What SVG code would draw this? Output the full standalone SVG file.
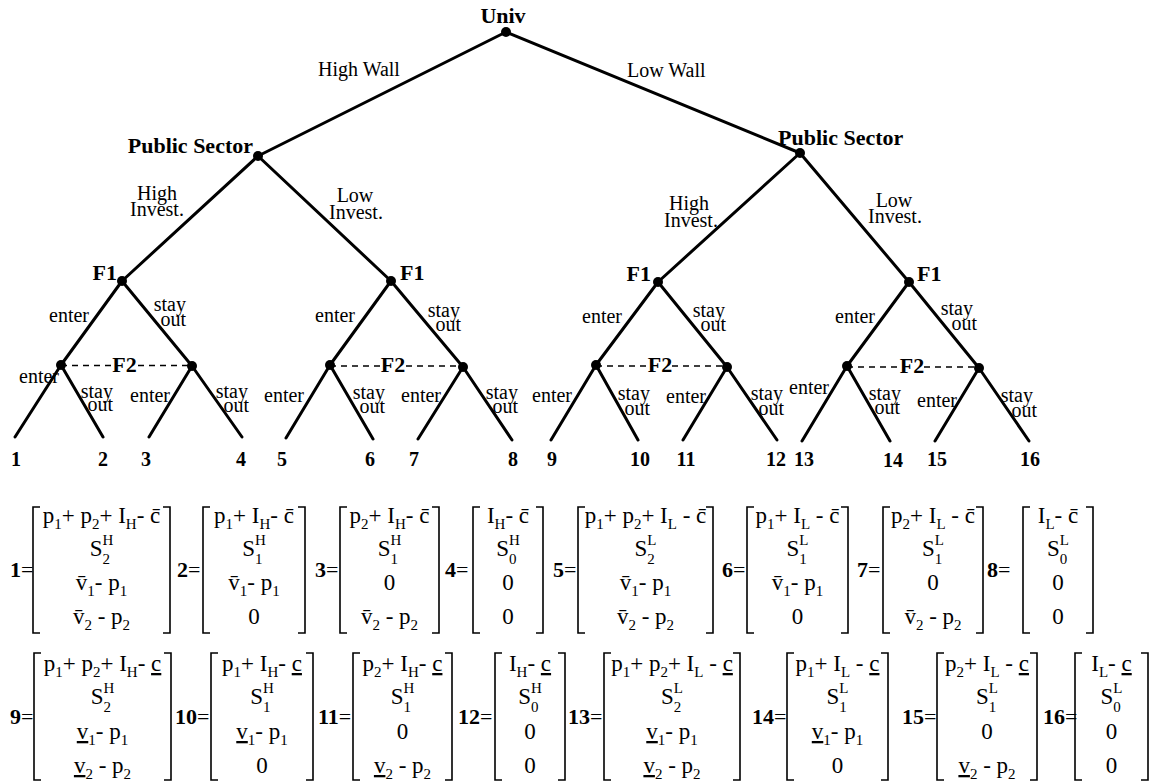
<svg xmlns="http://www.w3.org/2000/svg" width="1151" height="783" viewBox="0 0 1151 783">
<style>
text{font-family:"Liberation Serif","Times New Roman",serif;fill:#000}
.nl{font-size:22px;font-weight:bold}
.el{font-size:20px}
.lf{font-size:20px;font-weight:bold;text-anchor:middle}
.c{text-anchor:middle}
.e{text-anchor:end}
.m{font-size:23px;text-anchor:middle}
.s{font-size:15px}
.eq{font-size:22px}
.b{font-weight:bold}
.u{text-decoration:underline}
.edge{stroke:#000;stroke-width:3;fill:none;stroke-linecap:round}
.dash{stroke:#000;stroke-width:1.4;stroke-dasharray:6 5;fill:none}
.br{stroke:#000;stroke-width:1.6;fill:none}
.dot{fill:#000}
</style>
<rect width="1151" height="783" fill="#fff"/>
<g id="connectors">
<path class="edge" d="M506,32 L258,156 M506,32 L800,153 M258,156 L122,281 M258,156 L391,281 M800,153 L658,282 M800,153 L909,282 M122,281 L61,365 M122,281 L192,366 M391,281 L330,365 M391,281 L463,367 M658,282 L596,365 M658,282 L727,367 M909,282 L847,366 M909,282 L979,368 M61,365 L15,437 M61,365 L103,437 M192,366 L149,437 M192,366 L242,437 M330,365 L286,438 M330,365 L373,439 M463,367 L418,439 M463,367 L512,440 M596,365 L551,440 M596,365 L638,440 M727,367 L683,440 M727,367 L777,440 M847,366 L802,441 M847,366 L890,441 M979,368 L935,441 M979,368 L1029,441"/>
<path class="dash" d="M61,365.5 H111 M138,365.5 H192 M330,366 H380 M406,366 H463 M596,366 H648 M672,366 H727 M847,367 H900 M924,367 H979"/>
<text class="el" x="318" y="76">High Wall</text>
<text class="el" x="627" y="77">Low Wall</text>
<text class="el c" x="157" y="200">High<tspan x="157" dy="16">Invest.</tspan></text>
<text class="el c" x="355" y="202">Low<tspan x="356" dy="17">Invest.</tspan></text>
<text class="el c" x="689" y="210">High<tspan x="691" dy="17">Invest.</tspan></text>
<text class="el c" x="894" y="207">Low<tspan x="895" dy="16">Invest.</tspan></text>
<text class="el e" x="89" y="322">enter</text><text class="el e" x="186" y="311">stay<tspan x="186" dy="15">out</tspan></text>
<text class="el e" x="355" y="322">enter</text><text class="el e" x="460" y="317">stay<tspan x="461" dy="14">out</tspan></text>
<text class="el e" x="622" y="323">enter</text><text class="el e" x="725" y="317">stay<tspan x="726" dy="14">out</tspan></text>
<text class="el e" x="875" y="323">enter</text><text class="el e" x="973" y="315">stay<tspan x="977" dy="15">out</tspan></text>
<text class="el e" x="59" y="383">enter</text><text class="el e" x="113" y="398">stay<tspan x="113" dy="13">out</tspan></text>
<text class="el e" x="170" y="402">enter</text><text class="el e" x="248" y="398">stay<tspan x="249" dy="14">out</tspan></text>
<text class="el e" x="304" y="402">enter</text><text class="el e" x="385" y="399">stay<tspan x="385" dy="14">out</tspan></text>
<text class="el e" x="441" y="402">enter</text><text class="el e" x="518" y="399">stay<tspan x="518" dy="14">out</tspan></text>
<text class="el e" x="572" y="402">enter</text><text class="el e" x="650" y="400">stay<tspan x="650" dy="15">out</tspan></text>
<text class="el e" x="706" y="403">enter</text><text class="el e" x="783" y="400">stay<tspan x="784" dy="15">out</tspan></text>
<text class="el e" x="829" y="394">enter</text><text class="el e" x="901" y="400">stay<tspan x="900" dy="14">out</tspan></text>
<text class="el e" x="957" y="407">enter</text><text class="el e" x="1033" y="402">stay<tspan x="1037" dy="15">out</tspan></text>
</g>
<g id="univ"><circle class="dot" cx="506" cy="32" r="5"/><text class="nl c" x="503" y="23">Univ</text></g>
<g id="public-sector-high"><circle class="dot" cx="258" cy="156" r="5"/><text class="nl e" x="253" y="153">Public Sector</text></g>
<g id="public-sector-low"><circle class="dot" cx="800" cy="153" r="5"/><text class="nl" x="778" y="145">Public Sector</text></g>
<g id="f1-a"><circle class="dot" cx="122" cy="281" r="5"/><text class="nl e" x="117" y="280">F1</text></g>
<g id="f1-b"><circle class="dot" cx="391" cy="281" r="5"/><text class="nl" x="400" y="280">F1</text></g>
<g id="f1-c"><circle class="dot" cx="658" cy="282" r="5"/><text class="nl e" x="651" y="281">F1</text></g>
<g id="f1-d"><circle class="dot" cx="909" cy="282" r="5"/><text class="nl" x="917" y="281">F1</text></g>
<g id="f2-a"><circle class="dot" cx="61" cy="365" r="5"/><circle class="dot" cx="192" cy="366" r="5"/><text class="nl c" x="124.5" y="372">F2</text></g>
<g id="f2-b"><circle class="dot" cx="330" cy="365" r="5"/><circle class="dot" cx="463" cy="367" r="5"/><text class="nl c" x="393" y="372">F2</text></g>
<g id="f2-c"><circle class="dot" cx="596" cy="365" r="5"/><circle class="dot" cx="727" cy="367" r="5"/><text class="nl c" x="660" y="372">F2</text></g>
<g id="f2-d"><circle class="dot" cx="847" cy="366" r="5"/><circle class="dot" cx="979" cy="368" r="5"/><text class="nl c" x="912" y="373">F2</text></g>
<g id="leaves">
<text class="lf" x="16" y="466">1</text><text class="lf" x="103" y="466">2</text><text class="lf" x="146" y="466">3</text><text class="lf" x="241" y="466">4</text>
<text class="lf" x="282" y="466">5</text><text class="lf" x="370" y="466">6</text><text class="lf" x="414" y="466">7</text><text class="lf" x="513" y="466">8</text>
<text class="lf" x="552" y="466">9</text><text class="lf" x="640" y="466">10</text><text class="lf" x="686" y="466">11</text><text class="lf" x="776" y="466">12</text>
<text class="lf" x="804" y="466">13</text><text class="lf" x="893" y="467">14</text><text class="lf" x="937" y="466">15</text><text class="lf" x="1030" y="466">16</text>
</g>

<!-- Row 1 payoffs -->
<g id="payoff-1">
<text class="eq" x="10" y="577"><tspan class="b">1</tspan>=</text>
<path class="br" d="M40,507 H33 V633 H40 M163,507 H170 V633 H163"/>
<text class="m" x="101.5" y="523">p<tspan class="s" dy="6">1</tspan><tspan dy="-6">+ p</tspan><tspan class="s" dy="6">2</tspan><tspan dy="-6">+ I</tspan><tspan class="s" dy="6">H</tspan><tspan dy="-6">- c&#x304;</tspan></text>
<text class="m" x="101.5" y="556">S<tspan class="s" dy="-11">H</tspan><tspan class="s" dx="-10.8" dy="19">2</tspan></text>
<text class="m" x="101.5" y="590">v&#x304;<tspan class="s" dy="6">1</tspan><tspan dy="-6">- p</tspan><tspan class="s" dy="6">1</tspan></text>
<text class="m" x="101.5" y="624">v&#x304;<tspan class="s" dy="6">2</tspan><tspan dy="-6"> - p</tspan><tspan class="s" dy="6">2</tspan></text>
</g>
<g id="payoff-2">
<text class="eq" x="177" y="577"><tspan class="b">2</tspan>=</text>
<path class="br" d="M210,507 H203 V633 H210 M298,507 H305 V633 H298"/>
<text class="m" x="254" y="523">p<tspan class="s" dy="6">1</tspan><tspan dy="-6">+ I</tspan><tspan class="s" dy="6">H</tspan><tspan dy="-6">- c&#x304;</tspan></text>
<text class="m" x="254" y="556">S<tspan class="s" dy="-11">H</tspan><tspan class="s" dx="-10.8" dy="19">1</tspan></text>
<text class="m" x="254" y="590">v&#x304;<tspan class="s" dy="6">1</tspan><tspan dy="-6">- p</tspan><tspan class="s" dy="6">1</tspan></text>
<text class="m" x="254" y="624">0</text>
</g>
<g id="payoff-3">
<text class="eq" x="315" y="577"><tspan class="b">3</tspan>=</text>
<path class="br" d="M347,507 H340 V633 H347 M432,507 H439 V633 H432"/>
<text class="m" x="389.5" y="523">p<tspan class="s" dy="6">2</tspan><tspan dy="-6">+ I</tspan><tspan class="s" dy="6">H</tspan><tspan dy="-6">- c&#x304;</tspan></text>
<text class="m" x="389.5" y="556">S<tspan class="s" dy="-11">H</tspan><tspan class="s" dx="-10.8" dy="19">1</tspan></text>
<text class="m" x="389.5" y="590">0</text>
<text class="m" x="389.5" y="624">v&#x304;<tspan class="s" dy="6">2</tspan><tspan dy="-6"> - p</tspan><tspan class="s" dy="6">2</tspan></text>
</g>
<g id="payoff-4">
<text class="eq" x="445" y="577"><tspan class="b">4</tspan>=</text>
<path class="br" d="M480,507 H473 V633 H480 M536,507 H543 V633 H536"/>
<text class="m" x="508" y="523">I<tspan class="s" dy="6">H</tspan><tspan dy="-6">- c&#x304;</tspan></text>
<text class="m" x="508" y="556">S<tspan class="s" dy="-11">H</tspan><tspan class="s" dx="-10.8" dy="19">0</tspan></text>
<text class="m" x="508" y="590">0</text>
<text class="m" x="508" y="624">0</text>
</g>
<g id="payoff-5">
<text class="eq" x="553" y="577"><tspan class="b">5</tspan>=</text>
<path class="br" d="M585,507 H578 V633 H585 M706,507 H713 V633 H706"/>
<text class="m" x="645.5" y="523">p<tspan class="s" dy="6">1</tspan><tspan dy="-6">+ p</tspan><tspan class="s" dy="6">2</tspan><tspan dy="-6">+ I</tspan><tspan class="s" dy="6">L</tspan><tspan dy="-6"> - c&#x304;</tspan></text>
<text class="m" x="645.5" y="556">S<tspan class="s" dy="-11">L</tspan><tspan class="s" dx="-9.2" dy="19">2</tspan></text>
<text class="m" x="645.5" y="590">v&#x304;<tspan class="s" dy="6">1</tspan><tspan dy="-6">- p</tspan><tspan class="s" dy="6">1</tspan></text>
<text class="m" x="645.5" y="624">v&#x304;<tspan class="s" dy="6">2</tspan><tspan dy="-6"> - p</tspan><tspan class="s" dy="6">2</tspan></text>
</g>
<g id="payoff-6">
<text class="eq" x="722" y="577"><tspan class="b">6</tspan>=</text>
<path class="br" d="M754,507 H747 V633 H754 M841,507 H848 V633 H841"/>
<text class="m" x="797.5" y="523">p<tspan class="s" dy="6">1</tspan><tspan dy="-6">+ I</tspan><tspan class="s" dy="6">L</tspan><tspan dy="-6"> - c&#x304;</tspan></text>
<text class="m" x="797.5" y="556">S<tspan class="s" dy="-11">L</tspan><tspan class="s" dx="-9.2" dy="19">1</tspan></text>
<text class="m" x="797.5" y="590">v&#x304;<tspan class="s" dy="6">1</tspan><tspan dy="-6">- p</tspan><tspan class="s" dy="6">1</tspan></text>
<text class="m" x="797.5" y="624">0</text>
</g>
<g id="payoff-7">
<text class="eq" x="857" y="577"><tspan class="b">7</tspan>=</text>
<path class="br" d="M890,507 H883 V633 H890 M976,507 H983 V633 H976"/>
<text class="m" x="933" y="523">p<tspan class="s" dy="6">2</tspan><tspan dy="-6">+ I</tspan><tspan class="s" dy="6">L</tspan><tspan dy="-6"> - c&#x304;</tspan></text>
<text class="m" x="933" y="556">S<tspan class="s" dy="-11">L</tspan><tspan class="s" dx="-9.2" dy="19">1</tspan></text>
<text class="m" x="933" y="590">0</text>
<text class="m" x="933" y="624">v&#x304;<tspan class="s" dy="6">2</tspan><tspan dy="-6"> - p</tspan><tspan class="s" dy="6">2</tspan></text>
</g>
<g id="payoff-8">
<text class="eq" x="987" y="577"><tspan class="b">8</tspan>=</text>
<path class="br" d="M1030,507 H1023 V633 H1030 M1086,507 H1093 V633 H1086"/>
<text class="m" x="1058" y="523">I<tspan class="s" dy="6">L</tspan><tspan dy="-6">- c&#x304;</tspan></text>
<text class="m" x="1058" y="556">S<tspan class="s" dy="-11">L</tspan><tspan class="s" dx="-9.2" dy="19">0</tspan></text>
<text class="m" x="1058" y="590">0</text>
<text class="m" x="1058" y="624">0</text>
</g>

<!-- Row 2 payoffs -->
<g id="payoff-9">
<text class="eq" x="10" y="724"><tspan class="b">9</tspan>=</text>
<path class="br" d="M41,653 H34 V780 H41 M164,653 H171 V780 H164"/>
<text class="m" x="102.5" y="671">p<tspan class="s" dy="6">1</tspan><tspan dy="-6">+ p</tspan><tspan class="s" dy="6">2</tspan><tspan dy="-6">+ I</tspan><tspan class="s" dy="6">H</tspan><tspan dy="-6">- </tspan><tspan class="u">c</tspan></text>
<text class="m" x="102.5" y="704">S<tspan class="s" dy="-11">H</tspan><tspan class="s" dx="-10.8" dy="19">2</tspan></text>
<text class="m" x="102.5" y="739"><tspan class="u">v</tspan><tspan class="s" dy="6">1</tspan><tspan dy="-6">- p</tspan><tspan class="s" dy="6">1</tspan></text>
<text class="m" x="102.5" y="773"><tspan class="u">v</tspan><tspan class="s" dy="6">2</tspan><tspan dy="-6"> - p</tspan><tspan class="s" dy="6">2</tspan></text>
</g>
<g id="payoff-10">
<text class="eq" x="175" y="724"><tspan class="b">10</tspan>=</text>
<path class="br" d="M218,653 H211 V780 H218 M306,653 H313 V780 H306"/>
<text class="m" x="262" y="671">p<tspan class="s" dy="6">1</tspan><tspan dy="-6">+ I</tspan><tspan class="s" dy="6">H</tspan><tspan dy="-6">- </tspan><tspan class="u">c</tspan></text>
<text class="m" x="262" y="704">S<tspan class="s" dy="-11">H</tspan><tspan class="s" dx="-10.8" dy="19">1</tspan></text>
<text class="m" x="262" y="739"><tspan class="u">v</tspan><tspan class="s" dy="6">1</tspan><tspan dy="-6">- p</tspan><tspan class="s" dy="6">1</tspan></text>
<text class="m" x="262" y="773">0</text>
</g>
<g id="payoff-11">
<text class="eq" x="318" y="724"><tspan class="b">11</tspan>=</text>
<path class="br" d="M360,653 H353 V780 H360 M445,653 H452 V780 H445"/>
<text class="m" x="402.5" y="671">p<tspan class="s" dy="6">2</tspan><tspan dy="-6">+ I</tspan><tspan class="s" dy="6">H</tspan><tspan dy="-6">- </tspan><tspan class="u">c</tspan></text>
<text class="m" x="402.5" y="704">S<tspan class="s" dy="-11">H</tspan><tspan class="s" dx="-10.8" dy="19">1</tspan></text>
<text class="m" x="402.5" y="739">0</text>
<text class="m" x="402.5" y="773"><tspan class="u">v</tspan><tspan class="s" dy="6">2</tspan><tspan dy="-6"> - p</tspan><tspan class="s" dy="6">2</tspan></text>
</g>
<g id="payoff-12">
<text class="eq" x="458" y="724"><tspan class="b">12</tspan>=</text>
<path class="br" d="M502,653 H495 V780 H502 M558,653 H565 V780 H558"/>
<text class="m" x="530" y="671">I<tspan class="s" dy="6">H</tspan><tspan dy="-6">- </tspan><tspan class="u">c</tspan></text>
<text class="m" x="530" y="704">S<tspan class="s" dy="-11">H</tspan><tspan class="s" dx="-10.8" dy="19">0</tspan></text>
<text class="m" x="530" y="739">0</text>
<text class="m" x="530" y="773">0</text>
</g>
<g id="payoff-13">
<text class="eq" x="568" y="724"><tspan class="b">13</tspan>=</text>
<path class="br" d="M611,653 H604 V780 H611 M733,653 H740 V780 H733"/>
<text class="m" x="672" y="671">p<tspan class="s" dy="6">1</tspan><tspan dy="-6">+ p</tspan><tspan class="s" dy="6">2</tspan><tspan dy="-6">+ I</tspan><tspan class="s" dy="6">L</tspan><tspan dy="-6"> - </tspan><tspan class="u">c</tspan></text>
<text class="m" x="672" y="704">S<tspan class="s" dy="-11">L</tspan><tspan class="s" dx="-9.2" dy="19">2</tspan></text>
<text class="m" x="672" y="739"><tspan class="u">v</tspan><tspan class="s" dy="6">1</tspan><tspan dy="-6">- p</tspan><tspan class="s" dy="6">1</tspan></text>
<text class="m" x="672" y="773"><tspan class="u">v</tspan><tspan class="s" dy="6">2</tspan><tspan dy="-6"> - p</tspan><tspan class="s" dy="6">2</tspan></text>
</g>
<g id="payoff-14">
<text class="eq" x="752" y="724"><tspan class="b">14</tspan>=</text>
<path class="br" d="M794,653 H787 V780 H794 M881,653 H888 V780 H881"/>
<text class="m" x="837.5" y="671">p<tspan class="s" dy="6">1</tspan><tspan dy="-6">+ I</tspan><tspan class="s" dy="6">L</tspan><tspan dy="-6"> - </tspan><tspan class="u">c</tspan></text>
<text class="m" x="837.5" y="704">S<tspan class="s" dy="-11">L</tspan><tspan class="s" dx="-9.2" dy="19">1</tspan></text>
<text class="m" x="837.5" y="739"><tspan class="u">v</tspan><tspan class="s" dy="6">1</tspan><tspan dy="-6">- p</tspan><tspan class="s" dy="6">1</tspan></text>
<text class="m" x="837.5" y="773">0</text>
</g>
<g id="payoff-15">
<text class="eq" x="902" y="724"><tspan class="b">15</tspan>=</text>
<path class="br" d="M944,653 H937 V780 H944 M1030,653 H1037 V780 H1030"/>
<text class="m" x="987" y="671">p<tspan class="s" dy="6">2</tspan><tspan dy="-6">+ I</tspan><tspan class="s" dy="6">L</tspan><tspan dy="-6"> - </tspan><tspan class="u">c</tspan></text>
<text class="m" x="987" y="704">S<tspan class="s" dy="-11">L</tspan><tspan class="s" dx="-9.2" dy="19">1</tspan></text>
<text class="m" x="987" y="739">0</text>
<text class="m" x="987" y="773"><tspan class="u">v</tspan><tspan class="s" dy="6">2</tspan><tspan dy="-6"> - p</tspan><tspan class="s" dy="6">2</tspan></text>
</g>
<g id="payoff-16">
<text class="eq" x="1043" y="724"><tspan class="b">16</tspan>=</text>
<path class="br" d="M1082,653 H1075 V780 H1082 M1141,653 H1148 V780 H1141"/>
<text class="m" x="1111.5" y="671">I<tspan class="s" dy="6">L</tspan><tspan dy="-6">- </tspan><tspan class="u">c</tspan></text>
<text class="m" x="1111.5" y="704">S<tspan class="s" dy="-11">L</tspan><tspan class="s" dx="-9.2" dy="19">0</tspan></text>
<text class="m" x="1111.5" y="739">0</text>
<text class="m" x="1111.5" y="773">0</text>
</g>
</svg>
